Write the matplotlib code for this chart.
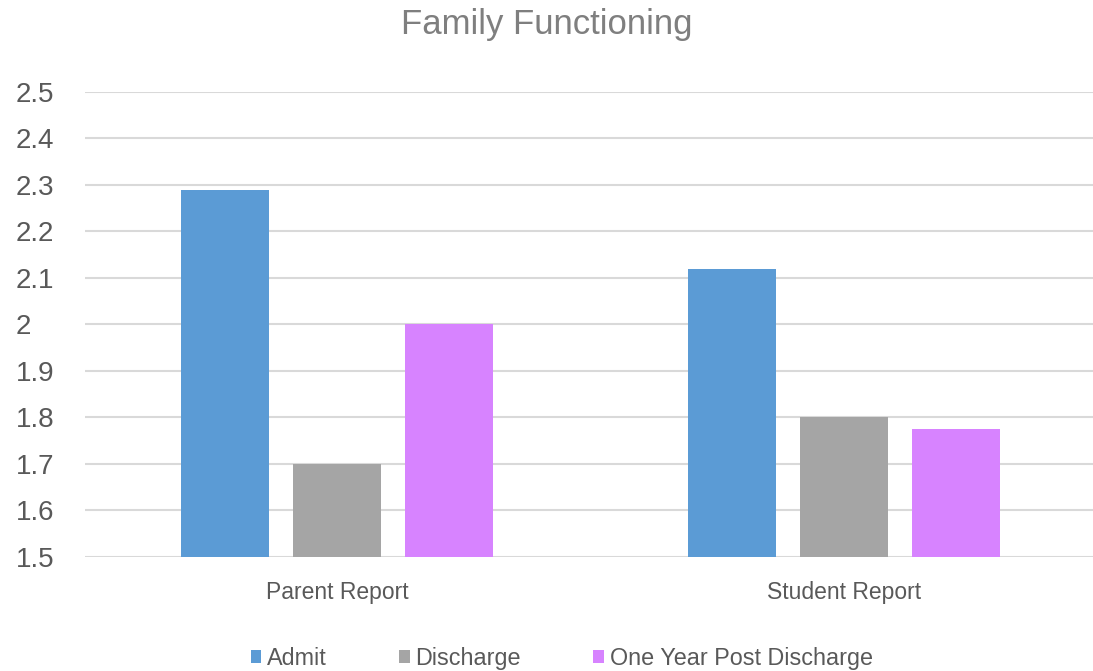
import numpy as np
import matplotlib.pyplot as plt
from matplotlib.patches import Patch

plt.rcParams['font.family'] = ['Liberation Sans', 'DejaVu Sans']

categories = ["Parent Report", "Student Report"]
series     = ["Admit", "Discharge", "One Year Post Discharge"]
admit      = [2.29, 2.12]
discharge  = [1.70, 1.80]
one_year   = [2.00, 1.775]
colors     = ["#5B9BD5", "#A5A5A5", "#D783FF"]
y_ticks    = [1.5, 1.6, 1.7, 1.8, 1.9, 2, 2.1, 2.2, 2.3, 2.4, 2.5]
y_labels   = ["1.5", "1.6", "1.7", "1.8", "1.9", "2", "2.1", "2.2", "2.3", "2.4", "2.5"]

txt = "#595959"

fig = plt.figure(figsize=(10.93, 6.71), dpi=100)
ax = fig.add_axes([0.078, 0.170, 0.922, 0.693])

x = np.arange(len(categories))
w = 0.174
step = 0.221
for i, (vals, col) in enumerate(zip([admit, discharge, one_year], colors)):
    ax.bar(x + (i - 1) * step, np.array(vals) - 1.5, width=w, bottom=1.5,
           color=col, zorder=3)

ax.set_ylim(1.5, 2.5)
ax.set_xlim(-0.497, 1.491)
ax.set_yticks(y_ticks)
ax.set_yticklabels(y_labels, fontsize=20, color=txt)
ax.set_xticks(x)
ax.set_xticklabels(categories, fontsize=16.5, color=txt)
ax.tick_params(axis="both", length=0)
ax.tick_params(axis="x", pad=17)
for lbl in ax.get_yticklabels():
    lbl.set_horizontalalignment("left")
ax.yaxis.set_tick_params(pad=50)
ax.grid(axis="y", color="#D9D9D9", linewidth=1.5, zorder=0)
for s in ax.spines.values():
    s.set_visible(False)

fig.suptitle("Family Functioning", fontsize=25, color="#7F7F7F", y=0.988, va="top")

handles = [Patch(facecolor=c, label=s) for c, s in zip(colors, series)]
fig.legend(handles=handles, loc="center", bbox_to_anchor=(0.514, 0.019),
           ncol=3, frameon=False, fontsize=16.8, handlelength=0.45,
           handleheight=0.45, handletextpad=0.25, columnspacing=3.1,
           labelcolor=txt)

fig.savefig("out.png", dpi=100, facecolor="white")
